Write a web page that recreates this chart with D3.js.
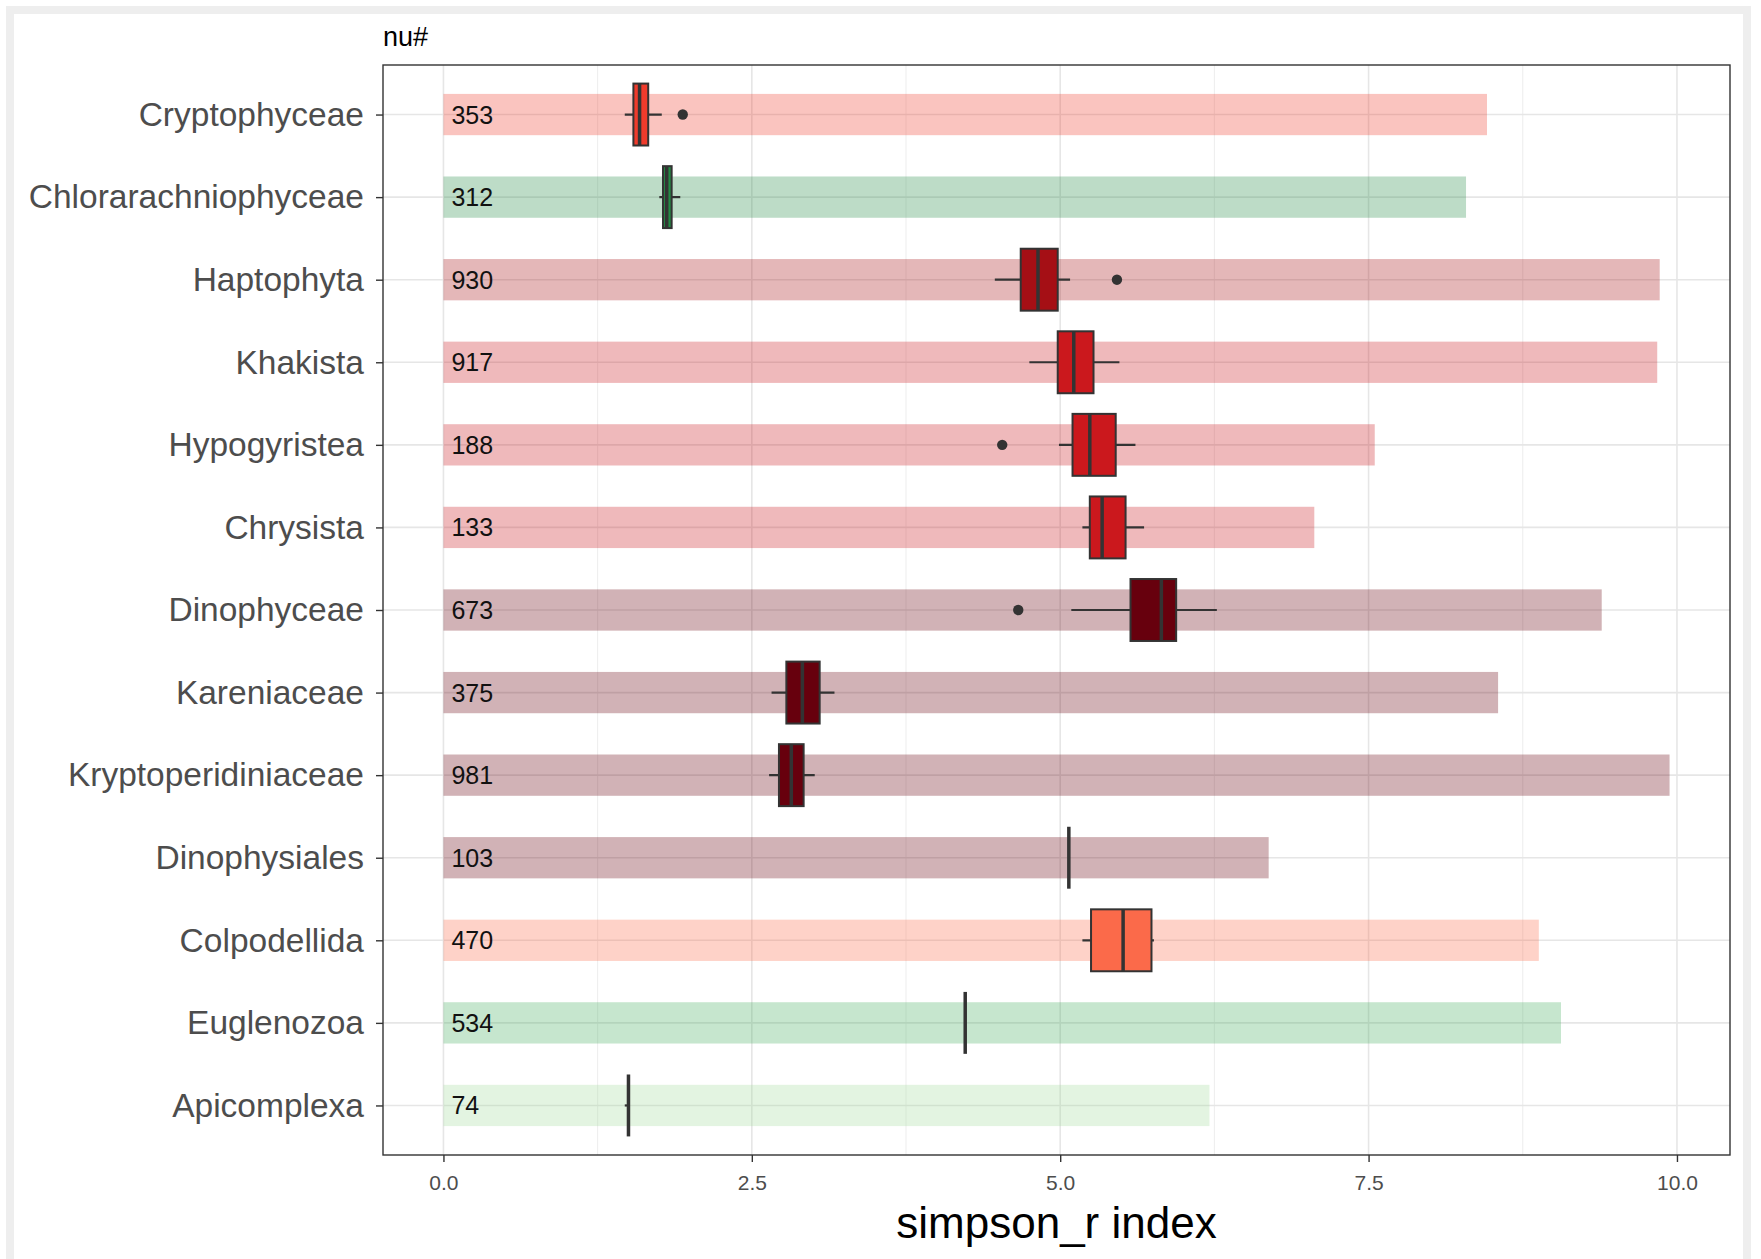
<!DOCTYPE html>
<html>
<head>
<meta charset="utf-8">
<script src="https://cdn.jsdelivr.net/npm/d3@7"></script>
<style>
  body { margin: 0; background: #ffffff; }
  svg { display: block; font-family: "Liberation Sans", Arial, sans-serif; }
</style>
</head>
<body>
<div id="chart"></div>
<script>
// data
var categories = ["Cryptophyceae", "Chlorarachniophyceae", "Haptophyta", "Khakista",
    "Hypogyristea", "Chrysista", "Dinophyceae", "Kareniaceae", "Kryptoperidiniaceae",
    "Dinophysiales", "Colpodellida", "Euglenozoa", "Apicomplexa"];
var counts = [353, 312, 930, 917, 188, 133, 673, 375, 981, 103, 470, 534, 74];
var barLength = [8.46, 8.29, 9.86, 9.84, 7.55, 7.06, 9.39, 8.55, 9.94, 6.69, 8.88, 9.06, 6.21];
var whiskerLow = [1.47, 1.75, 4.47, 4.75, 4.99, 5.18, 5.09, 2.66, 2.64, 5.07, 5.18, 4.23, 1.47];
var q1 = [1.54, 1.78, 4.68, 4.98, 5.10, 5.24, 5.57, 2.78, 2.72, 5.07, 5.25, 4.23, 1.50];
var median = [1.59, 1.81, 4.82, 5.11, 5.24, 5.34, 5.82, 2.91, 2.82, 5.07, 5.51, 4.23, 1.50];
var q3 = [1.66, 1.85, 4.98, 5.27, 5.45, 5.53, 5.94, 3.05, 2.92, 5.07, 5.74, 4.23, 1.50];
var whiskerHigh = [1.77, 1.92, 5.08, 5.48, 5.61, 5.68, 6.27, 3.17, 3.01, 5.07, 5.76, 4.23, 1.50];
var outliers = [[1.94], [], [5.46], [], [4.53], [], [4.66], [], [], [], [], [], []];
var fills = ["#EF3B2C", "#238B45", "#A50F15", "#CB181D", "#CB181D", "#CB181D", "#67000D",
    "#67000D", "#67000D", "#67000D", "#FB6A4A", "#41AB5D", "#A1D99B"];
var xTicks = [0, 2.5, 5, 7.5, 10];
var xMinor = [1.25, 3.75, 6.25, 8.75];

var data = categories.map(function (c, i) {
    return { name: c, n: counts[i], len: barLength[i], lo: whiskerLow[i], q1: q1[i],
        med: median[i], q3: q3[i], hi: whiskerHigh[i], out: outliers[i], fill: fills[i] };
});

var W = 1761, H = 1259;
var panel = { left: 383, right: 1730, top: 65, bottom: 1155 };

var svg = d3.select('#chart').append('svg')
    .attr('width', W)
    .attr('height', H);

// screenshot frame
svg.append('rect')
    .attr('x', 10).attr('y', 10)
    .attr('width', 1737).attr('height', 1320)
    .attr('fill', 'none')
    .attr('stroke', '#eeeeee')
    .attr('stroke-width', 8);

// scales
var xScale = d3.scaleLinear()
    .domain([-0.49, 10.43])
    .range([panel.left, panel.right]);

var yScale = d3.scalePoint()
    .domain(categories)
    .range([panel.top, panel.bottom])
    .padding(0.6);

var step = yScale.step();

// grid
var grid = svg.append('g');
grid.selectAll('.minor')
    .data(xMinor).enter().append('line')
    .attr('x1', d => xScale(d)).attr('x2', d => xScale(d))
    .attr('y1', panel.top).attr('y2', panel.bottom)
    .attr('stroke', '#ebebeb').attr('stroke-width', 0.9);
grid.selectAll('.major')
    .data(xTicks).enter().append('line')
    .attr('x1', d => xScale(d)).attr('x2', d => xScale(d))
    .attr('y1', panel.top).attr('y2', panel.bottom)
    .attr('stroke', '#e6e6e6').attr('stroke-width', 1.6);
grid.selectAll('.hgrid')
    .data(categories).enter().append('line')
    .attr('x1', panel.left).attr('x2', panel.right)
    .attr('y1', d => yScale(d)).attr('y2', d => yScale(d))
    .attr('stroke', '#e6e6e6').attr('stroke-width', 1.6);

// count bars
svg.selectAll('.bar')
    .data(data).enter().append('rect')
    .attr('x', xScale(0))
    .attr('y', d => yScale(d.name) - step * 0.25)
    .attr('width', d => xScale(d.len) - xScale(0))
    .attr('height', step * 0.5)
    .attr('fill', d => d.fill)
    .attr('opacity', 0.3);

// count labels
svg.selectAll('.count')
    .data(data).enter().append('text')
    .attr('x', xScale(0) + 8)
    .attr('y', d => yScale(d.name) + 9)
    .attr('font-size', '25px')
    .attr('fill', '#111111')
    .text(d => d.n);

// boxplots
var boxes = svg.selectAll('.box')
    .data(data).enter().append('g');

boxes.append('line')
    .attr('x1', d => xScale(d.lo)).attr('x2', d => xScale(d.hi))
    .attr('y1', d => yScale(d.name)).attr('y2', d => yScale(d.name))
    .attr('stroke', '#333333').attr('stroke-width', 2.2);

boxes.append('rect')
    .attr('x', d => xScale(d.q1))
    .attr('y', d => yScale(d.name) - step * 0.375)
    .attr('width', d => xScale(d.q3) - xScale(d.q1))
    .attr('height', step * 0.75)
    .attr('fill', d => d.fill)
    .attr('stroke', '#333333')
    .attr('stroke-width', 2);

boxes.append('line')
    .attr('x1', d => xScale(d.med)).attr('x2', d => xScale(d.med))
    .attr('y1', d => yScale(d.name) - step * 0.375)
    .attr('y2', d => yScale(d.name) + step * 0.375)
    .attr('stroke', '#333333').attr('stroke-width', 3.5);

boxes.selectAll('circle')
    .data(d => d.out.map(v => ({ v: v, name: d.name })))
    .enter().append('circle')
    .attr('cx', d => xScale(d.v))
    .attr('cy', d => yScale(d.name))
    .attr('r', 5.2)
    .attr('fill', '#333333');

// panel border
svg.append('rect')
    .attr('x', panel.left).attr('y', panel.top)
    .attr('width', panel.right - panel.left)
    .attr('height', panel.bottom - panel.top)
    .attr('fill', 'none')
    .attr('stroke', '#333333')
    .attr('stroke-width', 1.4);

// x axis
var xAxis = svg.append('g')
    .attr('transform', 'translate(0,' + panel.bottom + ')')
    .call(d3.axisBottom(xScale).tickValues(xTicks).tickFormat(d3.format('.1f'))
        .tickSize(7).tickPadding(13).tickSizeOuter(0));
xAxis.select('.domain').remove();
xAxis.selectAll('line').attr('stroke', '#333333').attr('stroke-width', 1.4);
xAxis.selectAll('text').attr('font-size', '21px').attr('fill', '#4d4d4d')
    .attr('font-family', '"Liberation Sans", Arial, sans-serif');

// y axis
var yAxis = svg.append('g')
    .attr('transform', 'translate(' + panel.left + ',0)')
    .call(d3.axisLeft(yScale).tickSize(7).tickPadding(12).tickSizeOuter(0));
yAxis.select('.domain').remove();
yAxis.selectAll('line').attr('stroke', '#333333').attr('stroke-width', 1.4);
yAxis.selectAll('text').attr('font-size', '33.5px').attr('fill', '#4d4d4d')
    .attr('font-family', '"Liberation Sans", Arial, sans-serif');

// titles
svg.append('text')
    .attr('x', panel.left)
    .attr('y', 46)
    .attr('font-size', '27px')
    .attr('fill', '#000000')
    .text('nu#');

svg.append('text')
    .attr('x', (panel.left + panel.right) / 2)
    .attr('y', 1238)
    .style('text-anchor', 'middle')
    .attr('font-size', '44px')
    .attr('fill', '#000000')
    .text('simpson_r index');
</script>
</body>
</html>
